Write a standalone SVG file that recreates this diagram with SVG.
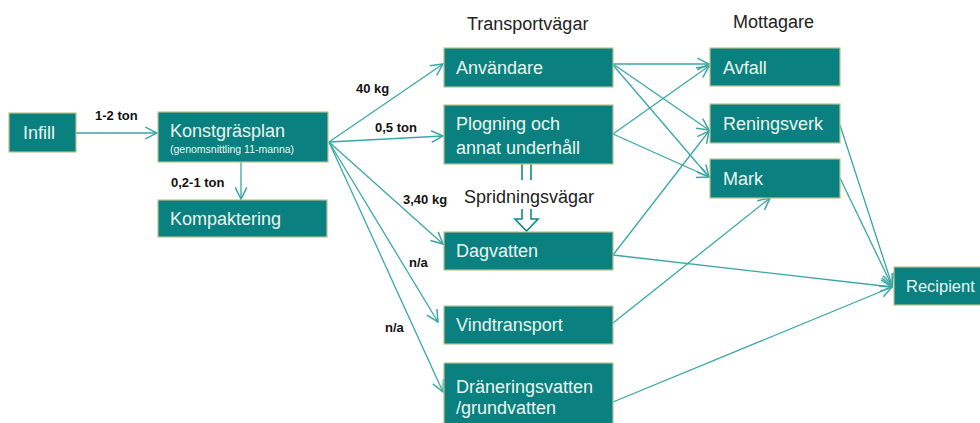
<svg xmlns="http://www.w3.org/2000/svg" width="980" height="423" viewBox="0 0 980 423">
<defs>
<style>
.node rect{fill:#0b8080;stroke:#b9c28a;stroke-width:1.2}
.node text{fill:#eaf5ef;font-family:"Liberation Sans",Arial,sans-serif;font-size:18px}
.node text.small{font-size:10.5px}
.conn line{stroke:#3aa7a7;stroke-width:1.3;fill:none}
.lbl{font-family:"Liberation Sans",Arial,sans-serif;font-size:13px;font-weight:bold;fill:#111}
.title{font-family:"Liberation Sans",Arial,sans-serif;font-size:18px;fill:#222}
.hollow{stroke:#0b8a8a;stroke-width:1.6;fill:none}
</style>
<marker id="arr" markerUnits="userSpaceOnUse" markerWidth="14" markerHeight="14" viewBox="0 0 12 12" refX="11" refY="6" orient="auto">
<path d="M1,1 L11,6 L1,11" fill="none" stroke="#3aa7a7" stroke-width="1.3"/>
</marker>
</defs>
<rect width="980" height="423" fill="#ffffff"/>

<g id="connectors" class="conn">
<line x1="76" y1="133" x2="157" y2="133" marker-end="url(#arr)"/>
<line x1="241" y1="162" x2="241" y2="199" marker-end="url(#arr)"/>
<line x1="329" y1="142" x2="443" y2="64" marker-end="url(#arr)"/>
<line x1="329" y1="142" x2="443" y2="136" marker-end="url(#arr)"/>
<line x1="329" y1="142" x2="443" y2="244" marker-end="url(#arr)"/>
<line x1="329" y1="142" x2="438" y2="322" marker-end="url(#arr)"/>
<line x1="329" y1="142" x2="443" y2="392" marker-end="url(#arr)"/>
<line x1="613" y1="64" x2="709" y2="64" marker-end="url(#arr)"/>
<line x1="613" y1="64" x2="709" y2="130" marker-end="url(#arr)"/>
<line x1="613" y1="65" x2="709" y2="177" marker-end="url(#arr)"/>
<line x1="613" y1="134" x2="709" y2="66" marker-end="url(#arr)"/>
<line x1="613" y1="134" x2="709" y2="177" marker-end="url(#arr)"/>
<line x1="613" y1="255" x2="709" y2="131" marker-end="url(#arr)"/>
<line x1="613" y1="255" x2="892" y2="287" marker-end="url(#arr)"/>
<line x1="613" y1="323" x2="770" y2="198" marker-end="url(#arr)"/>
<line x1="613" y1="402" x2="892" y2="287" marker-end="url(#arr)"/>
<line x1="840" y1="125" x2="892" y2="285" marker-end="url(#arr)"/>
<line x1="840" y1="178" x2="892" y2="286" marker-end="url(#arr)"/>
</g>

<g id="flow-labels">
<text class="lbl" x="95" y="120">1-2 ton</text>
<text class="lbl" x="171" y="187">0,2-1 ton</text>
<text class="lbl" x="356" y="93">40 kg</text>
<text class="lbl" x="375" y="132">0,5 ton</text>
<text class="lbl" x="403" y="204">3,40 kg</text>
<text class="lbl" x="409" y="267">n/a</text>
<text class="lbl" x="385" y="332">n/a</text>
</g>

<g id="titles">
<text class="title" x="467" y="30">Transportvägar</text>
<text class="title" x="733" y="28">Mottagare</text>
</g>

<g id="spridningsvagar">
<polyline class="hollow" points="522,164 522,180"/>
<polyline class="hollow" points="531,164 531,180"/>
<polyline class="hollow" points="522,209 522,219 515,219 526.5,231 538,219 531,219 531,209"/>
<text class="title" x="464" y="203">Spridningsvägar</text>
</g>

<g id="infill" class="node"><rect x="9" y="113" width="67" height="39"/><text x="23" y="139">Infill</text></g>
<g id="konstgrasplan" class="node"><rect x="158" y="112" width="170" height="50"/><text x="170" y="137">Konstgräsplan</text><text class="small" x="170" y="153">(genomsnittling 11-manna)</text></g>
<g id="kompaktering" class="node"><rect x="158" y="200" width="169" height="37"/><text x="170" y="225">Kompaktering</text></g>
<g id="anvandare" class="node"><rect x="444" y="48" width="169" height="39"/><text x="456" y="74">Användare</text></g>
<g id="plogning" class="node"><rect x="444" y="105" width="169" height="59"/><text x="456" y="130">Plogning och</text><text x="456" y="154">annat underhåll</text></g>
<g id="dagvatten" class="node"><rect x="444" y="232" width="169" height="38"/><text x="456" y="257">Dagvatten</text></g>
<g id="vindtransport" class="node"><rect x="444" y="306" width="169" height="38"/><text x="456" y="331">Vindtransport</text></g>
<g id="dranering" class="node"><rect x="444" y="363" width="169" height="70"/><text x="456" y="393">Dräneringsvatten</text><text x="456" y="414">/grundvatten</text></g>
<g id="avfall" class="node"><rect x="710" y="48" width="130" height="38"/><text x="723" y="74">Avfall</text></g>
<g id="reningsverk" class="node"><rect x="710" y="104" width="130" height="39"/><text x="723" y="130">Reningsverk</text></g>
<g id="mark" class="node"><rect x="710" y="159" width="130" height="39"/><text x="723" y="185">Mark</text></g>
<g id="recipient" class="node"><rect x="894" y="267" width="100" height="38"/><text x="906" y="292" style="font-size:16.5px">Recipient</text></g>
</svg>
